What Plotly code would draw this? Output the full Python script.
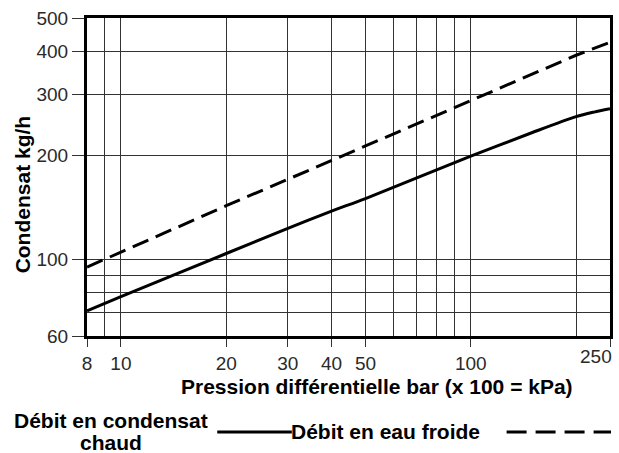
import plotly.graph_objects as go

# Data
pression = [8, 10, 20, 30, 40, 50, 100, 150, 200, 225, 250]
condensat_chaud = [71, 78, 104, 123, 138, 150, 199, 233, 259, 267, 273]

pression_froide = [8, 10, 20, 50, 100, 200, 250]
eau_froide = [95, 105, 143, 213, 288, 390, 425]

x_ticks = [8, 10, 20, 30, 40, 50, 100, 250]
x_labels = ["8", "10", "20", "30", "40", "50", "100", ""]
x_minor = [9, 60, 70, 80, 90, 200]
y_ticks = [60, 100, 200, 300, 400, 500]
y_minor = [70, 80, 90]

L, R, T, B = 87, 6, 18, 117
W, H = 619, 453
pw, ph = W - L - R, H - T - B

def px_x(p):
    return (p - L) / pw

def px_y(p):
    return (H - B - p) / ph

FONT = "Liberation Sans, Arial"

fig = go.Figure()
fig.add_trace(go.Scatter(x=pression, y=condensat_chaud, mode="lines",
                         line=dict(color="black", width=3, shape="spline", smoothing=0.8),
                         showlegend=False))
fig.add_trace(go.Scatter(x=pression_froide, y=eau_froide, mode="lines",
                         line=dict(color="black", width=3, dash="17px,8px"),
                         showlegend=False))

tickfont = dict(family=FONT, size=19, color="#2a2a2a")
fig.update_xaxes(type="log", range=[0.90309, 2.39794],
                 tickmode="array", tickvals=x_ticks, ticktext=x_labels,
                 showgrid=True, gridcolor="#333", gridwidth=1,
                 minor=dict(tickmode="array", tickvals=x_minor, showgrid=True,
                            gridcolor="#333", gridwidth=1, ticks=""),
                 ticks="outside", ticklen=8, tickcolor="#333", tickwidth=1,
                 showline=True, linecolor="black", linewidth=3, mirror=True,
                 tickfont=tickfont, zeroline=False)
fig.update_yaxes(type="log", range=[1.77815, 2.69897],
                 tickmode="array", tickvals=y_ticks, ticktext=[str(v) for v in y_ticks],
                 showgrid=True, gridcolor="#333", gridwidth=1,
                 minor=dict(tickmode="array", tickvals=y_minor, showgrid=True,
                            gridcolor="#333", gridwidth=1, ticks=""),
                 ticks="outside", ticklen=12, tickcolor="#333", tickwidth=1,
                 showline=True, linecolor="black", linewidth=3, mirror=True,
                 tickfont=tickfont, zeroline=False)

bold = dict(family=FONT, size=21, color="black")

def ann(text, x, y, xanchor="center", **kw):
    return dict(text=text, xref="paper", yref="paper", x=px_x(x), y=px_y(y),
                xanchor=xanchor, yanchor="middle", showarrow=False, **kw)

annotations = [
    ann("250", 617, 356, xanchor="right", font=tickfont),
    ann("<b>Condensat kg/h</b>", 22, 194, textangle=-90, font=bold),
    ann("<b>Pression différentielle bar (x 100 = kPa)</b>", 378.5, 386, font=bold),
    ann("<b>Débit en condensat</b>", 111, 420, font=bold),
    ann("<b>chaud</b>", 111, 442, font=bold),
    ann("<b>Débit en eau froide</b>", 290, 431, xanchor="left", font=bold),
]
shapes = [
    dict(type="line", xref="paper", yref="paper", x0=px_x(218), x1=px_x(293),
         y0=px_y(432), y1=px_y(432), line=dict(color="black", width=3)),
    dict(type="line", xref="paper", yref="paper", x0=px_x(509), x1=px_x(614),
         y0=px_y(432), y1=px_y(432), line=dict(color="black", width=3, dash="20px,9px")),
]

fig.update_layout(width=W, height=H, margin=dict(l=L, r=R, t=T, b=B),
                  plot_bgcolor="white", paper_bgcolor="white",
                  annotations=annotations, shapes=shapes, showlegend=False)
fig.write_html("out.html", config={"displayModeBar": False},
               post_script="document.body.style.margin='0';document.body.style.overflow='hidden';")
